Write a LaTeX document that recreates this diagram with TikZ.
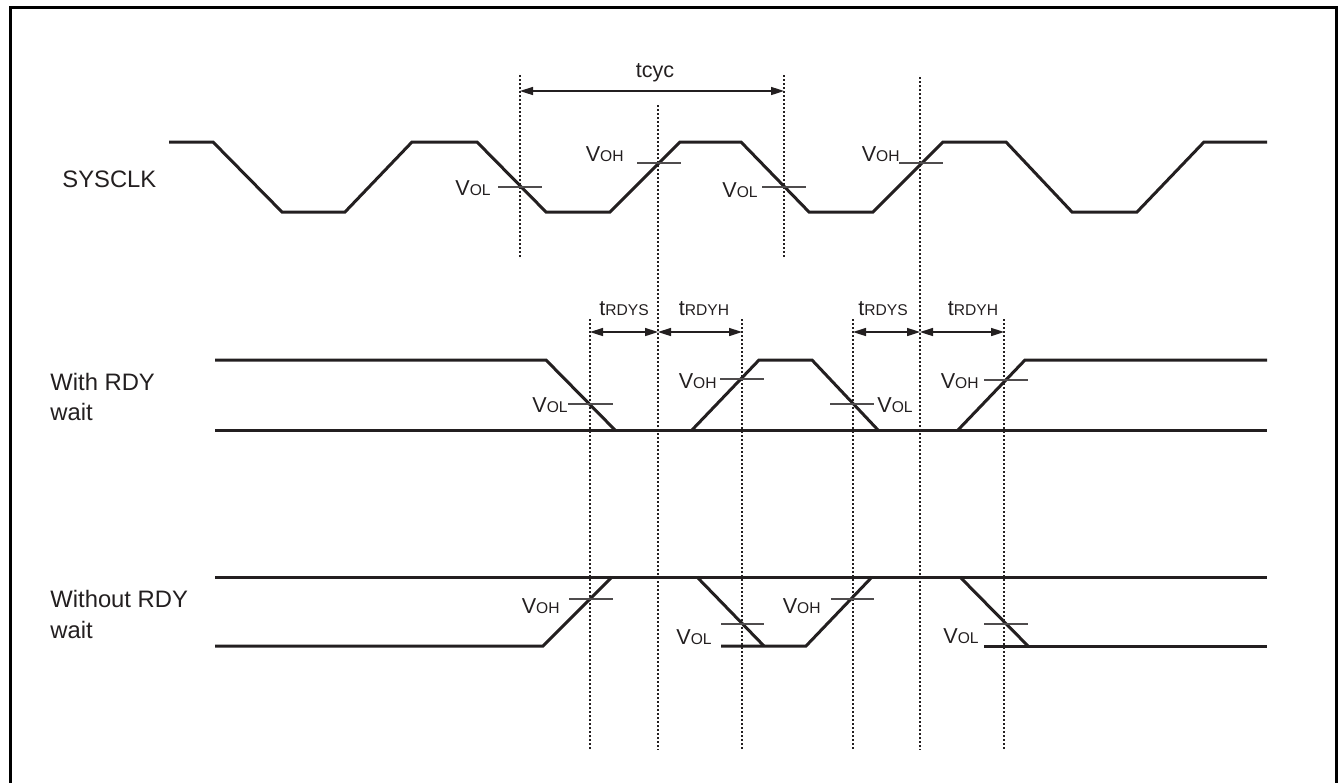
\documentclass[tikz,border=0pt]{standalone}
\usepackage{fontspec}
\setmainfont{Liberation Sans}
\usetikzlibrary{arrows.meta}
\definecolor{ink}{HTML}{231F20}
\newcommand\vlev[2]{#1{\fontsize{7.8}{8}\selectfont #2}}
\begin{document}
\begin{tikzpicture}[x=0.5pt,y=-0.5pt,
  wave/.style={line width=1.5pt, draw=ink, line join=miter},
  tick/.style={line width=0.8pt, draw=ink!80},
  guide/.style={line width=0.6pt, draw=ink, dash pattern=on 1pt off 1pt},
  dim/.style={line width=0.8pt, draw=ink, {Triangle[length=6.5pt,width=4pt]}-{Triangle[length=6.5pt,width=4pt]}},
  lab/.style={inner sep=0pt, text=ink, font=\fontsize{10.8}{12}\selectfont},
  sig/.style={inner sep=0pt, text=ink, align=left, font=\fontsize{11.9}{15}\selectfont}]
\useasboundingbox (0,0) rectangle (1338,782);
\draw[line width=1.5pt, draw=black] (10,7) rectangle (1336,800);

% signal names
\node[sig, anchor=base west] (nclk) at (62,187) {SYSCLK};
\node[sig, anchor=base west] (nrdy1) at (50,390) {With RDY};
\node[sig, anchor=base west] (nrdy2) at (50,420) {wait};
\node[sig, anchor=base west] (nnrdy1) at (50,607) {Without RDY};
\node[sig, anchor=base west] (nnrdy2) at (50,638) {wait};

% guide lines
\coordinate (g1t) at (520,75);  \coordinate (g1b) at (520,258);
\coordinate (g4t) at (784,75);  \coordinate (g4b) at (784,258);
\coordinate (g2t) at (658,105); \coordinate (g2b) at (658,750);
\coordinate (g5t) at (920,77);  \coordinate (g5b) at (920,750);
\coordinate (a1t) at (590,319); \coordinate (a1b) at (590,750);
\coordinate (a2t) at (742,319); \coordinate (a2b) at (742,750);
\coordinate (a3t) at (853,319); \coordinate (a3b) at (853,750);
\coordinate (a4t) at (1004,319); \coordinate (a4b) at (1004,750);
\foreach \p in {g1,g4,g2,g5,a1,a2,a3,a4} \draw[guide] (\p t) -- (\p b);

% tcyc
\coordinate (c1) at (520,91); \coordinate (c2) at (784,91);
\draw[dim] (c1) -- (c2);
\node[lab] (tcyc) at (655,73) {tcyc};

% setup / hold
\coordinate (d1) at (590,332); \coordinate (d2) at (658,332);
\coordinate (d3) at (742,332); \coordinate (d4) at (853,332);
\coordinate (d5) at (920,332); \coordinate (d6) at (1004,332);
\draw[dim] (d1) -- (d2);
\draw[dim] (d2) -- (d3);
\draw[dim] (d4) -- (d5);
\draw[dim] (d5) -- (d6);
\node[lab] (ts1) at (624,309) {\vlev{t}{RDYS}};
\node[lab] (th1) at (704,309) {\vlev{t}{RDYH}};
\node[lab] (ts2) at (883,309) {\vlev{t}{RDYS}};
\node[lab] (th2) at (973,309) {\vlev{t}{RDYH}};

% SYSCLK
\draw[wave] (169,142) -- (213,142) -- (282,212) -- (345,212) -- (412,142) -- (477,142)
  -- (546,212) -- (610,212) -- (680,142) -- (741,142) -- (809,212) -- (873,212)
  -- (943,142) -- (1006,142) -- (1072,212) -- (1137,212) -- (1204,142) -- (1267,142);
\draw[tick] (498,187) -- (542,187);
\draw[tick] (637,163) -- (681,163);
\draw[tick] (762,187) -- (806,187);
\draw[tick] (899,163) -- (943,163);
\node[lab, anchor=east] (l1) at (491,188) {\vlev{V}{OL}};
\node[lab, anchor=east] (l2) at (624,154) {\vlev{V}{OH}};
\node[lab, anchor=east] (l3) at (758,190) {\vlev{V}{OL}};
\node[lab, anchor=east] (l4) at (900,154) {\vlev{V}{OH}};

% With RDY wait
\draw[wave] (215,360) -- (546,360) -- (615,430);
\draw[wave] (215,430) -- (1267,430);
\draw[wave] (692,430) -- (759,360) -- (812,360) -- (878,430);
\draw[wave] (958,430) -- (1025,360) -- (1267,360);
\draw[tick] (568,404) -- (613,404);
\draw[tick] (720,379) -- (764,379);
\draw[tick] (830,404) -- (874,404);
\draw[tick] (984,380) -- (1028,380);
\node[lab, anchor=east] (l5) at (568,405) {\vlev{V}{OL}};
\node[lab, anchor=east] (l6) at (717,381) {\vlev{V}{OH}};
\node[lab, anchor=west] (l7) at (877,405) {\vlev{V}{OL}};
\node[lab, anchor=east] (l8) at (979,381) {\vlev{V}{OH}};

% Without RDY wait
\draw[wave] (215,577) -- (1267,577);
\draw[wave] (215,646) -- (543,646) -- (612,577);
\draw[wave] (697,577) -- (764,646);
\draw[wave] (721,646) -- (806,646) -- (872,577);
\draw[wave] (960,577) -- (1028,646);
\draw[wave] (984,646) -- (1267,646);
\draw[tick] (569,599) -- (613,599);
\draw[tick] (721,624) -- (764,624);
\draw[tick] (831,599) -- (874,599);
\draw[tick] (984,624) -- (1028,624);
\node[lab, anchor=east] (l9) at (560,606) {\vlev{V}{OH}};
\node[lab, anchor=east] (l10) at (712,637) {\vlev{V}{OL}};
\node[lab, anchor=east] (l11) at (821,606) {\vlev{V}{OH}};
\node[lab, anchor=east] (l12) at (979,636) {\vlev{V}{OL}};
\end{tikzpicture}
\end{document}
